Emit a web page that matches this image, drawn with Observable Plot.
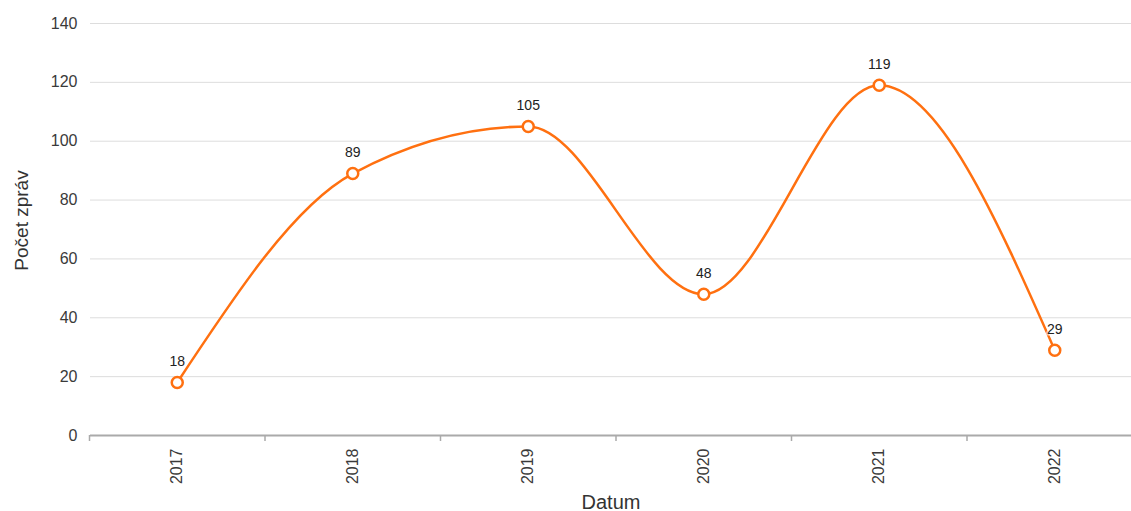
<!DOCTYPE html>
<html><head><meta charset="utf-8">
<script src="https://cdn.jsdelivr.net/npm/d3@7"></script>
<script src="https://cdn.jsdelivr.net/npm/@observablehq/plot@0.6"></script>
<style>
body{margin:0;background:#fff;font-family:"Liberation Sans",Arial,sans-serif;}
</style></head><body><div id="chart"></div>
<script>
const years = [2017, 2018, 2019, 2020, 2021, 2022];
const counts = [18, 89, 105, 48, 119, 29];
const yTicks = [0, 20, 40, 60, 80, 100, 120, 140];
const xLabel = "Datum";
const yLabel = "Počet zpráv";

const data = years.map((y, i) => ({year: y, count: counts[i]}));
const bounds = years.map(y => y - 0.5);
const color = "#ff7010";

const chart = Plot.plot({
  width: 1131,
  height: 511,
  marginLeft: 90,
  marginRight: 0,
  marginTop: 23,
  marginBottom: 76,
  style: {fontFamily: "Liberation Sans, Arial, sans-serif", fontSize: "16px", color: "#333", background: "#fff", overflow: "visible"},
  x: {type: "linear", domain: [2016.5, 2022.5], range: [89, 1142]},
  y: {domain: [0, 140]},
  marks: [
    Plot.gridY(yTicks, {stroke: "#ddd", strokeOpacity: 1, strokeWidth: 1}),
    Plot.ruleY([0], {stroke: "#aaa", strokeWidth: 2}),
    Plot.ruleX(bounds, {x: d => d, y1: 0, y2: 0, insetBottom: -6, stroke: "#aaa", strokeWidth: 1.5}),
    Plot.axisY(yTicks, {tickSize: 0, tickPadding: 13, label: null, fontSize: 16, fill: "#3a3a3a"}),
    Plot.axisX(years, {tickSize: 0, tickPadding: 13, tickRotate: -90, tickFormat: d => String(d), label: null, fontSize: 16, fill: "#3a3a3a"}),
    Plot.line(data, {x: "year", y: "count", curve: "monotone-x", stroke: color, strokeWidth: 2.5}),
    Plot.text(data, {x: "year", y: "count", text: d => String(d.count), dy: -21, fontSize: 14, fill: "#222", stroke: "white", strokeWidth: 3, strokeOpacity: 0.6}),
    Plot.dot(data, {x: "year", y: "count", r: 5.5, fill: "white", stroke: color, strokeWidth: 2.5}),
    Plot.text([xLabel], {frameAnchor: "bottom", dy: 73, fontSize: 20, fill: "#333"}),
    Plot.text([yLabel], {frameAnchor: "left", dx: -69, dy: -9, rotate: -90, textAnchor: "middle", fontSize: 19, fill: "#333"})
  ]
});
document.getElementById("chart").append(chart);
</script></body></html>
